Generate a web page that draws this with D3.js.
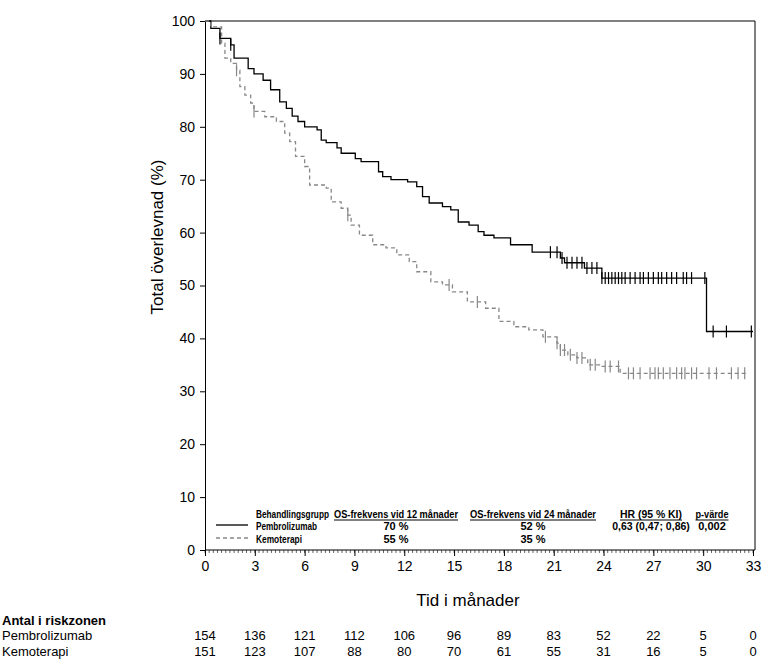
<!DOCTYPE html>
<html>
<head>
<meta charset="UTF-8" />
<style>
  body { margin: 0; background: #fff; }
  text { font-family: Arial, "Liberation Sans", sans-serif; }
  .leg text { font-family: "Liberation Sans", Arial, sans-serif; font-weight: bold; font-size: 11px; }
</style>
<script src="https://d3js.org/d3.v7.min.js"></script>
</head>
<body>
<svg width="783" height="672"></svg>
<script>
// step curves: [month, survival %]
var pembroSteps = [[0,100],[0.35,98.6],[0.9,96.7],[1.55,95.5],[1.75,93],[2.6,91],[2.95,90],[3.5,88.8],[3.95,87],
  [4.5,84.7],[4.9,83.5],[5.25,82],[5.6,81],[6.0,80],[6.75,79.4],[7.0,77.5],[7.3,77],[7.95,76],[8.2,75],
  [9.05,74],[9.4,73.4],[10.45,71.5],[10.7,70.6],[11.2,70],[12.2,69.6],[12.75,68.7],[13.1,66.8],[13.5,65.6],
  [14.3,64.9],[14.8,64.3],[15.25,62],[15.9,61.4],[16.45,60.2],[16.8,59.5],[17.4,59],[18.4,57.7],[19.7,56.3],
  [21.4,55.2],[21.65,54.3],[22.85,53.3],[23.9,51.4],[30.2,41.3],[33,41.3]];
var kemoSteps = [[0,100],[0.35,98.9],[1.0,95.8],[1.2,93],[1.55,92],[1.9,90.7],[2.1,87.6],[2.4,86],[2.75,84.5],
  [2.95,82.9],[3.6,81.9],[4.3,81],[4.8,78.8],[5.1,77.2],[5.45,74.4],[6.0,72.5],[6.3,69],[7.3,68.4],[7.6,65.8],
  [8.2,64.6],[8.6,63.3],[8.8,61.4],[9.3,59.5],[10.1,57.7],[10.9,57.1],[11.55,55.8],[12.3,54.5],[12.75,52.6],
  [13.6,50.7],[14.3,50.1],[14.9,48.8],[15.8,46.9],[16.9,45.7],[17.7,43.2],[18.6,42.2],[19.5,41.6],[20.35,40.3],
  [21.2,39.1],[21.4,37.8],[21.85,36.9],[22.4,36.3],[23.05,35],[23.8,34.7],[25.0,33.4],[32.7,33.4]];
var pembroCens = [0.9,1.55,20.8,21.2,21.5,21.8,22.1,22.4,22.7,23.0,23.3,23.6,23.9,24.1,24.3,24.5,24.7,24.9,25.1,
  25.3,25.6,25.9,26.2,26.4,26.7,27.0,27.3,27.5,27.8,28.1,28.4,28.8,29.0,29.3,30.1,30.6,31.4,32.9];
var kemoCens = [1.9,2.95,8.6,14.7,16.4,20.5,21.2,21.4,21.65,22.0,22.4,22.7,23.2,23.5,24.1,24.4,24.9,25.5,25.8,
  26.2,26.8,27.1,27.3,27.6,28.0,28.4,28.7,28.9,29.3,29.6,30.35,30.8,31.7,32.1,32.5];
var xTicks = [0,3,6,9,12,15,18,21,24,27,30,33];
var yTicks = [0,10,20,30,40,50,60,70,80,90,100];
var riskPembro = [154,136,121,112,106,96,89,83,52,22,5,0];
var riskKemo = [151,123,107,88,80,70,61,55,31,16,5,0];
var legHeaders = ["OS-frekvens vid 12 månader","OS-frekvens vid 24 månader","HR (95 % KI)","p-värde"];
var legPembro = ["70 %","52 %","0,63 (0,47; 0,86)","0,002"];
var legKemo = ["55 %","35 %","",""];

var svg = d3.select("svg");
var x = d3.scaleLinear().domain([0,33]).range([205,753]);
var y = d3.scaleLinear().domain([0,100]).range([550,21]);

// frame
svg.append("path").attr("d","M205,21H755V550").attr("fill","none").attr("stroke","#000");

var xAx = svg.append("g").attr("transform","translate(0,550)")
  .call(d3.axisBottom(x).tickValues(xTicks).tickSize(6).tickPadding(5).tickFormat(d3.format("d")));
xAx.selectAll("text").attr("font-size",14).attr("fill","#000").style("font-family","Arial, 'Liberation Sans'");
xAx.select(".domain").attr("d","M205,0H755");
svg.append("g").attr("transform","translate(0,550)").selectAll("line")
  .data(d3.range(0,33.01,0.25)).join("line")
  .attr("x1",d=>x(d)).attr("x2",d=>x(d)).attr("y1",0).attr("y2",3).attr("stroke","#000").attr("stroke-width",0.6);

var yAx = svg.append("g").attr("transform","translate(205,0)")
  .call(d3.axisLeft(y).tickValues(yTicks).tickSize(5).tickPadding(5));
yAx.selectAll("text").attr("font-size",14).attr("fill","#000").style("font-family","Arial, 'Liberation Sans'");

svg.append("text").attr("transform","translate(163,237) rotate(-90)").attr("text-anchor","middle")
  .attr("font-size",17).text("Total överlevnad (%)");
svg.append("text").attr("x",468).attr("y",606).attr("text-anchor","middle").attr("font-size",17).text("Tid i månader");

var line = d3.line().x(d=>x(d[0])).y(d=>y(d[1])).curve(d3.curveStepAfter);
svg.append("path").datum(pembroSteps).attr("d",line).attr("fill","none").attr("stroke","#000").attr("stroke-width",1.3);
svg.append("path").datum(kemoSteps).attr("d",line).attr("fill","none").attr("stroke","#888")
  .attr("stroke-width",1.3).attr("stroke-dasharray","4,3");

function stepVal(steps, t) {
  var v = steps[0][1];
  steps.forEach(s => { if (s[0] <= t) v = s[1]; });
  return v;
}
svg.append("g").selectAll("line").data(pembroCens).join("line")
  .attr("x1",d=>x(d)).attr("x2",d=>x(d)).attr("y1",d=>y(stepVal(pembroSteps,d))-6).attr("y2",d=>y(stepVal(pembroSteps,d))+6)
  .attr("stroke","#000").attr("stroke-width",1.2);
svg.append("g").selectAll("line").data(kemoCens).join("line")
  .attr("x1",d=>x(d)).attr("x2",d=>x(d)).attr("y1",d=>y(stepVal(kemoSteps,d))-6).attr("y2",d=>y(stepVal(kemoSteps,d))+6)
  .attr("stroke","#888").attr("stroke-width",1.2);

// legend table (condensed via textLength)
var leg = svg.append("g").attr("class","leg");
var colX = [396,533,651,712];
var colW = [124,126,62,33];
leg.append("text").attr("x",256).attr("y",518).attr("textLength",73).attr("lengthAdjust","spacingAndGlyphs").text("Behandlingsgrupp");
legHeaders.forEach((h,i) => {
  leg.append("text").attr("x",colX[i]-colW[i]/2).attr("y",518).attr("textLength",colW[i])
    .attr("lengthAdjust","spacingAndGlyphs").text(h);
  leg.append("line").attr("x1",colX[i]-colW[i]/2).attr("x2",colX[i]+colW[i]/2).attr("y1",520).attr("y2",520).attr("stroke","#000");
});
leg.append("line").attr("x1",216).attr("x2",248).attr("y1",525).attr("y2",525).attr("stroke","#000").attr("stroke-width",1.3);
leg.append("line").attr("x1",216).attr("x2",248).attr("y1",538).attr("y2",538).attr("stroke","#888").attr("stroke-width",1.3).attr("stroke-dasharray","4,3");
leg.append("text").attr("x",256).attr("y",530).attr("textLength",61).attr("lengthAdjust","spacingAndGlyphs").text("Pembrolizumab");
leg.append("text").attr("x",256).attr("y",543).attr("textLength",46).attr("lengthAdjust","spacingAndGlyphs").text("Kemoterapi");
legPembro.forEach((v,i)=>leg.append("text").attr("x",colX[i]).attr("y",530).attr("text-anchor","middle")
  .style("font-size", i==2 ? "10.5px" : null).text(v));
legKemo.forEach((v,i)=>leg.append("text").attr("x",colX[i]).attr("y",543).attr("text-anchor","middle").text(v));

// risk table
svg.append("text").attr("x",2).attr("y",625).attr("font-size",13).attr("font-weight","bold").text("Antal i riskzonen");
svg.append("text").attr("x",2).attr("y",640).attr("font-size",13).text("Pembrolizumab");
svg.append("text").attr("x",2).attr("y",656).attr("font-size",13).text("Kemoterapi");
svg.append("g").selectAll("text").data(riskPembro).join("text")
  .attr("x",(d,i)=>x(xTicks[i])).attr("y",640).attr("text-anchor","middle").attr("font-size",13).text(d=>d);
svg.append("g").selectAll("text").data(riskKemo).join("text")
  .attr("x",(d,i)=>x(xTicks[i])).attr("y",656).attr("text-anchor","middle").attr("font-size",13).text(d=>d);
</script>
</body>
</html>
